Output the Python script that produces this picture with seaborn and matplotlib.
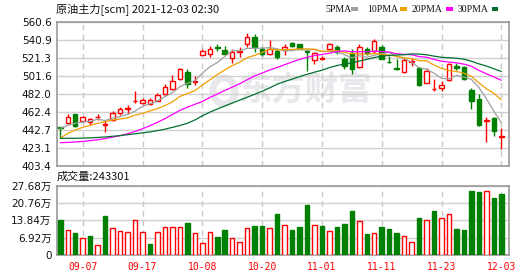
import matplotlib
matplotlib.use("Agg")
import matplotlib.pyplot as plt
from matplotlib.patches import Rectangle, Ellipse
import seaborn as sns
import pandas as pd

# ---------------- data ----------------
dates = ["09-02", "09-03", "09-06", "09-07", "09-08", "09-09", "09-10", "09-13", "09-14", "09-15",
         "09-16", "09-17", "09-22", "09-23", "09-24", "09-27", "09-28", "09-29", "09-30", "10-08",
         "10-11", "10-12", "10-13", "10-14", "10-15", "10-18", "10-19", "10-20", "10-21", "10-22",
         "10-25", "10-26", "10-27", "10-28", "10-29", "11-01", "11-02", "11-03", "11-04", "11-05",
         "11-08", "11-09", "11-10", "11-11", "11-12", "11-15", "11-16", "11-17", "11-18", "11-19",
         "11-22", "11-23", "11-24", "11-25", "11-26", "11-29", "11-30", "12-01", "12-02", "12-03"]

opens = [445.6, 449.9, 459.7, 452.8, 451.7, 456.9, 448.4, 453.5, 461.5, 465.9,
         473.9, 472.4, 471.0, 474.6, 481.8, 487.3, 498.2, 505.4, 494.9, 524.7,
         525.0, 533.4, 529.8, 521.4, 527.6, 536.3, 544.3, 530.5, 525.0, 529.0,
         529.8, 537.8, 536.3, 529.0, 518.9, 520.3, 531.2, 532.7, 519.6, 526.1,
         511.6, 531.2, 529.0, 533.4, 517.1, 509.8, 506.2, 516.7, 510.5, 494.2,
         487.0, 488.7, 497.1, 512.3, 510.9, 486.2, 476.4, 452.4, 456.1, 435.4]
highs = [445.8, 460.0, 460.4, 457.9, 455.3, 459.7, 453.5, 463.7, 467.3, 469.9,
         485.5, 477.8, 477.1, 483.3, 492.4, 502.5, 510.5, 508.7, 501.4, 530.5,
         534.5, 536.3, 534.1, 530.5, 532.7, 547.9, 547.2, 533.4, 540.7, 530.5,
         535.9, 538.5, 536.7, 530.5, 527.6, 523.2, 537.8, 535.2, 522.5, 530.5,
         536.3, 533.4, 541.4, 534.9, 523.2, 519.6, 521.1, 520.7, 511.6, 510.5,
         497.8, 496.4, 516.0, 516.0, 512.3, 488.0, 481.8, 456.4, 457.2, 444.4]
lows = [433.6, 449.1, 446.3, 452.1, 447.7, 453.5, 440.8, 452.8, 459.0, 460.1,
        472.4, 471.0, 469.5, 473.9, 480.8, 486.2, 497.1, 488.0, 491.6, 523.9,
        522.5, 528.7, 524.3, 516.0, 521.8, 532.7, 528.0, 523.2, 523.9, 519.6,
        524.7, 533.4, 530.9, 507.3, 514.2, 518.9, 529.8, 525.4, 509.4, 503.6,
        509.8, 524.3, 526.9, 519.6, 515.2, 508.0, 505.1, 512.3, 490.9, 493.5,
        485.1, 485.5, 496.4, 508.0, 497.1, 465.1, 447.0, 429.9, 436.1, 421.6]
closes = [445.0, 456.4, 447.0, 457.2, 454.2, 457.2, 448.8, 460.8, 465.1, 466.6,
          474.6, 475.3, 474.9, 480.4, 489.1, 496.0, 508.7, 492.7, 495.6, 529.0,
          531.2, 531.9, 525.4, 527.6, 528.3, 544.3, 532.7, 525.4, 531.2, 521.8,
          533.4, 534.1, 531.2, 527.2, 526.1, 521.1, 536.3, 527.6, 512.3, 508.7,
          533.4, 526.9, 539.2, 520.3, 516.3, 509.1, 518.9, 517.4, 491.3, 506.9,
          487.7, 491.3, 514.5, 510.2, 497.8, 474.6, 448.1, 453.2, 441.9, 436.1]

ma5 = [444.4, 447.7, 449.9, 451.3, 452.0, 454.4, 452.9, 455.6, 457.2, 459.7,
       463.2, 468.5, 471.3, 474.4, 478.9, 483.1, 489.8, 493.4, 496.4, 504.4,
       511.4, 516.1, 522.6, 529.0, 528.9, 531.5, 531.7, 531.7, 532.4, 531.1,
       528.9, 529.2, 530.3, 529.5, 530.4, 527.9, 528.4, 527.7, 524.7, 521.2,
       523.7, 521.8, 524.1, 525.7, 527.2, 522.4, 520.8, 516.4, 510.6, 508.7,
       504.4, 498.9, 498.3, 502.1, 500.3, 497.7, 489.0, 476.8, 463.1, 450.8]
ma10 = [433.6, 439.0, 442.6, 445.5, 447.7, 449.9, 451.7, 453.5, 454.6, 455.8,
        458.8, 460.7, 463.5, 465.8, 469.3, 473.2, 479.2, 482.3, 485.4, 491.6,
        497.3, 503.0, 508.0, 512.7, 516.6, 521.5, 523.9, 527.1, 530.7, 530.0,
        530.2, 530.4, 531.0, 531.0, 530.7, 528.4, 528.8, 529.0, 527.1, 525.8,
        525.8, 525.1, 525.9, 525.2, 524.2, 523.0, 521.3, 520.3, 518.2, 518.0,
        513.4, 509.8, 507.4, 506.4, 504.5, 501.1, 494.0, 487.6, 482.6, 475.5]
ma20 = [428.8, 429.1, 429.6, 430.2, 431.0, 432.0, 433.3, 434.8, 436.5, 438.5,
        441.0, 444.0, 447.3, 451.0, 455.0, 459.5, 464.0, 467.5, 470.6, 473.7,
        478.0, 481.8, 485.7, 489.3, 493.0, 497.3, 501.5, 504.7, 508.0, 510.8,
        513.7, 516.7, 519.5, 521.8, 523.7, 524.9, 526.3, 528.1, 528.9, 527.9,
        528.0, 527.8, 528.4, 528.1, 527.5, 525.7, 525.0, 524.6, 522.6, 521.9,
        519.6, 517.5, 516.6, 515.8, 514.4, 512.0, 507.6, 503.9, 500.4, 496.8]
ma30 = [433.6, 433.6, 433.6, 433.8, 434.0, 434.5, 435.0, 435.8, 436.5, 437.5,
        438.5, 439.5, 440.5, 442.0, 443.5, 445.5, 447.5, 450.0, 453.5, 458.0,
        462.0, 465.5, 468.8, 472.0, 475.2, 478.3, 481.5, 484.8, 488.5, 492.5,
        495.4, 498.0, 500.8, 503.2, 505.6, 507.7, 510.6, 512.8, 514.4, 515.8,
        517.8, 519.5, 521.6, 523.0, 523.9, 524.3, 524.6, 525.5, 525.3, 524.6,
        523.1, 521.8, 521.4, 520.8, 519.8, 517.5, 514.7, 512.3, 509.3, 506.4]

volumes = [139400, 98200, 87600, 66400, 75700, 38500, 155300, 106200, 94200, 90300,
           138000, 90300, 43800, 90300, 110100, 110100, 110100, 127400, 86300, 46500,
           90300, 70400, 98200, 66400, 50400, 106200, 114100, 114100, 106200, 163300,
           118100, 98200, 111500, 199100, 118100, 114100, 94200, 110100, 123500, 175200,
           134000, 83600, 86300, 111500, 102200, 87600, 74300, 50400, 147400, 138000,
           175200, 146000, 161900, 103600, 99600, 254900, 250900, 253500, 227000, 243301]
vol_dir = ["G", "R", "G", "R", "G", "R", "G", "R", "R", "R",
           "R", "R", "G", "R", "R", "R", "R", "G", "R", "R",
           "R", "G", "G", "R", "R", "R", "G", "G", "R", "G",
           "R", "G", "G", "G", "R", "G", "R", "G", "G", "G",
           "R", "G", "R", "G", "G", "G", "R", "R", "G", "R",
           "G", "R", "R", "G", "G", "G", "G", "R", "G", "G"]

price_ticks = [403.4, 423.1, 442.7, 462.4, 482.0, 501.6, 521.3, 540.9, 560.6]
price_tick_labels = ["403.4", "423.1", "442.7", "462.4", "482.0", "501.6", "521.3", "540.9", "560.6"]
vol_ticks = [0, 69200, 138400, 207600, 276800]
vol_tick_labels = ["0", "6.92万", "13.84万", "20.76万", "27.68万"]
date_tick_labels = ["09-07", "09-17", "10-08", "10-20", "11-01", "11-11", "11-23", "12-03"]

title_text = "原油主力[scm] 2021-12-03 02:30"
vol_title = "成交量:243301"
ma_names = ["5PMA", "10PMA", "20PMA", "30PMA"]
ma_colors = ["#a0a0a0", "#f0a000", "#ff00ff", "#00702f"]

# ---------------- style ----------------
sns.set_style("white")
plt.rcParams["font.family"] = ["DejaVu Sans", "Noto Sans CJK SC"]

RED = "#ff0000"
GREEN = "#008000"
FRAME = "#999999"
TXT = "#111111"

W, H = 530, 276
fig = plt.figure(figsize=(W / 100, H / 100), dpi=100)
fig.patch.set_facecolor("white")


def rect(l, t, r, b):
    return [l / W, 1 - b / H, (r - l) / W, (b - t) / H]


ax = fig.add_axes(rect(57, 21.7, 509.3, 166))
axv = fig.add_axes(rect(57, 185.5, 509.3, 255))

df = pd.DataFrame({"date": dates, "open": opens, "high": highs, "low": lows,
                   "close": closes, "ma5": ma5, "ma10": ma10, "ma20": ma20,
                   "ma30": ma30, "vol": volumes, "dir": vol_dir})
df["x"] = range(len(df))

# watermark
ax.text(0.548, 0.52, "东方财富", transform=ax.transAxes, fontsize=24, fontweight="bold",
        color="#e8e8ec", ha="center", va="center", family=["Noto Sans CJK SC"], zorder=0.5)
ax.add_patch(Ellipse((224 / W, 1 - 91 / H), 22 / W, 26 / H, transform=fig.transFigure,
                     fill=False, lw=5, ec="#e8e8ec", zorder=0.5))

# candles
for _, r in df.iterrows():
    up = r["close"] >= r["open"]
    col = RED if up else GREEN
    ax.vlines(r["x"], r["low"], r["high"], color=col, lw=1.0, zorder=3)
    body = max(abs(r["close"] - r["open"]), 0.35)
    ax.bar(r["x"], body, bottom=min(r["open"], r["close"]), width=0.6,
           facecolor="white" if up else GREEN, edgecolor=col, lw=1.0, zorder=4)

# moving averages
for name, col in zip(["ma5", "ma10", "ma20", "ma30"], ma_colors):
    sns.lineplot(data=df, x="x", y=name, ax=ax, color=col, lw=0.9, legend=False, zorder=5)

# volume bars
for _, r in df.iterrows():
    if r["dir"] == "R":
        axv.bar(r["x"], r["vol"], width=0.6, facecolor="white", edgecolor=RED, lw=1.0, zorder=3)
    else:
        axv.bar(r["x"], r["vol"], width=0.6, facecolor=GREEN, edgecolor=GREEN, lw=1.0, zorder=3)

tick_pos = [dates.index(d) for d in date_tick_labels]
for a in (ax, axv):
    a.set_xlim(-0.44, 60.07)
    a.set_xticks(tick_pos)
    a.xaxis.grid(True, color="#c8c8c8", ls=(0, (4, 3)), lw=1.0)
    a.yaxis.grid(True, color="#d0d0d0", ls="-", lw=1.0)
    a.set_axisbelow(True)
    a.set_xlabel("")
    a.set_ylabel("")
    for s in a.spines.values():
        s.set_color(FRAME)
        s.set_linewidth(1.2)
    a.tick_params(length=0)

ax.set_ylim(price_ticks[0], price_ticks[-1])
ax.set_yticks(price_ticks)
ax.set_yticklabels(price_tick_labels, fontsize=7.5, color=TXT)
ax.tick_params(axis="y", pad=4)
ax.set_xticklabels([])

axv.set_ylim(0, vol_ticks[-1])
axv.set_yticks(vol_ticks)
axv.set_yticklabels(vol_tick_labels, fontsize=7.5, color=TXT)
axv.tick_params(axis="y", pad=4)
axv.set_xticklabels(date_tick_labels, fontsize=7, color=RED, family="DejaVu Sans Mono")
axv.tick_params(axis="x", pad=5)

# header texts
fig.text(56 / W, 1 - 9.5 / H, title_text, fontsize=8, color=TXT, va="center", ha="left",
         family=["Noto Sans CJK SC", "DejaVu Sans"])
fig.text(57 / W, 1 - 177 / H, vol_title, fontsize=8, color=TXT, va="center", ha="left",
         family=["Noto Sans CJK SC", "DejaVu Sans"])

legend_x = [325, 367, 412, 458]
rect_x = [351, 400, 446, 491.7]
for name, col, lx, rx in zip(ma_names, ma_colors, legend_x, rect_x):
    fig.text(lx / W, 1 - 9.5 / H, name, fontsize=7, color=TXT, va="center", ha="left",
             family="Liberation Serif")
    fig.patches.append(Rectangle((rx / W, 1 - 10.5 / H), 6.5 / W, 3.8 / H,
                                 transform=fig.transFigure, facecolor=col, edgecolor="none"))

fig.savefig("out.png", dpi=100)
